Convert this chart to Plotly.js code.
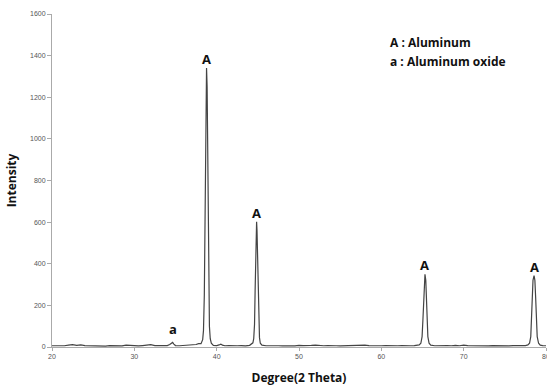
<!DOCTYPE html>
<html>
<head>
<meta charset="utf-8">
<script src="https://cdn.plot.ly/plotly-3.0.1.min.js"></script>
<style>html,body{margin:0;padding:0;background:#fff;}#chart{width:547px;height:389px;}</style>
</head>
<body>
<div id="chart"></div>
<script>
const twoTheta = [
  20.0,20.5,21.0,21.5,22.0,22.5,23.0,23.5,24.0,24.5,25.0,25.5,26.0,26.5,27.0,27.5,28.0,28.5,29.0,29.5,
  30.0,30.5,31.0,31.5,32.0,32.5,33.0,33.5,34.0,34.3,34.5,34.65,34.8,35.0,35.5,36.0,36.5,37.0,37.5,37.8,
  38.1,38.3,38.4,38.5,38.57,38.64,38.7,38.77,38.84,38.9,38.97,39.04,39.12,39.22,39.35,39.6,40.0,40.3,40.5,40.7,
  41.0,41.5,42.0,42.5,43.0,43.5,44.0,44.2,44.4,44.5,44.6,44.67,44.74,44.8,44.85,44.9,44.96,45.03,45.1,45.2,
  45.3,45.5,46.0,46.5,47.0,47.5,48.0,48.5,49.0,49.5,50.0,50.5,51.0,51.5,52.0,52.5,53.0,53.5,54.0,54.5,
  55.0,55.5,56.0,56.5,57.0,57.5,58.0,58.5,59.0,59.5,60.0,60.5,61.0,61.5,62.0,62.5,63.0,63.5,64.0,64.6,
  64.8,64.95,65.05,65.13,65.2,65.3,65.4,65.47,65.55,65.65,65.8,66.0,66.5,67.0,67.5,68.0,68.5,69.0,69.5,70.0,
  70.5,71.0,71.5,72.0,72.5,73.0,73.5,74.0,74.5,75.0,75.5,76.0,76.5,77.0,77.5,77.8,78.0,78.15,78.25,78.33,
  78.42,78.55,78.65,78.74,78.83,78.93,79.1,79.3,79.6,80.0
];
const intensity = [
  6,5,7,6,9,11,8,10,7,6,8,5,6,4,7,6,8,5,9,7,
  6,5,7,9,11,7,6,5,7,12,18,22,14,7,6,8,7,9,12,16,
  16,35,80,250,600,1000,1250,1340,1250,1000,620,280,100,40,18,8,7,10,14,9,
  6,7,5,6,7,5,8,12,20,40,110,270,450,560,602,560,450,280,120,45,
  18,9,6,7,5,6,5,7,6,5,8,7,6,8,9,7,6,7,8,6,
  5,6,7,5,6,7,9,7,6,5,6,7,6,5,6,7,5,6,7,10,
  18,50,130,240,320,349,320,240,130,50,18,9,6,7,5,7,6,8,6,9,
  7,6,5,7,6,5,7,6,7,6,5,7,6,5,7,10,18,50,130,240,
  320,343,320,240,130,50,18,9,7,6
];
// peak labels
const peakLabels = ["a","A","A","A","A"];
const peakPos = [34.65,38.77,44.85,65.3,78.55];
const peakTop = [22,1340,602,349,343];
const legendLines = ["A : Aluminum","a : Aluminum oxide"];

const bold = {family:"Open Sans, Liberation Sans, sans-serif", size:12, color:"#111"};
const annotations = peakLabels.map((t,i)=>({
  x:peakPos[i], y:peakTop[i], xref:"x", yref:"y", text:"<b>"+t+"</b>",
  showarrow:false, yanchor:"bottom", yshift:(i===0?2:-2), font:{family:bold.family, size:13, color:"#111"}
}));
legendLines.forEach((t,i)=>annotations.push({
  x:0.68, y:0.915 - i*0.058, xref:"paper", yref:"paper", xanchor:"left", yanchor:"middle",
  text:"<b>"+t+"</b>", showarrow:false, font:{family:"Open Sans, Liberation Sans, sans-serif", size:12, color:"#111"}
}));

const data = [{
  x: twoTheta, y: intensity, type:"scatter", mode:"lines",
  line:{color:"#444", width:1.2}, hoverinfo:"skip"
}];

const tickFont = {family:"Liberation Sans, Arial, sans-serif", size:7, color:"#555"};
const layout = {
  width:547, height:389,
  margin:{l:52, r:1, t:14, b:42},
  paper_bgcolor:"#fff", plot_bgcolor:"#fff",
  showlegend:false,
  xaxis:{
    range:[20,80], dtick:10, tick0:20, showgrid:false, zeroline:false,
    showline:true, linecolor:"#aaa", linewidth:1, ticklabeloverflow:"allow",
    ticks:"outside", ticklen:3, tickcolor:"#aaa", tickfont:tickFont,
    title:{text:"<b>Degree(2 Theta)</b>", font:bold, standoff:14}
  },
  yaxis:{
    range:[0,1600], dtick:200, showgrid:false, zeroline:false,
    showline:true, linecolor:"#aaa", linewidth:1,
    ticks:"outside", ticklen:4, tickcolor:"#aaa", tickfont:tickFont,
    title:{text:"<b>Intensity</b>", font:bold, standoff:10}
  },
  annotations: annotations
};
Plotly.newPlot("chart", data, layout, {staticPlot:true, displayModeBar:false});
</script>
</body>
</html>
